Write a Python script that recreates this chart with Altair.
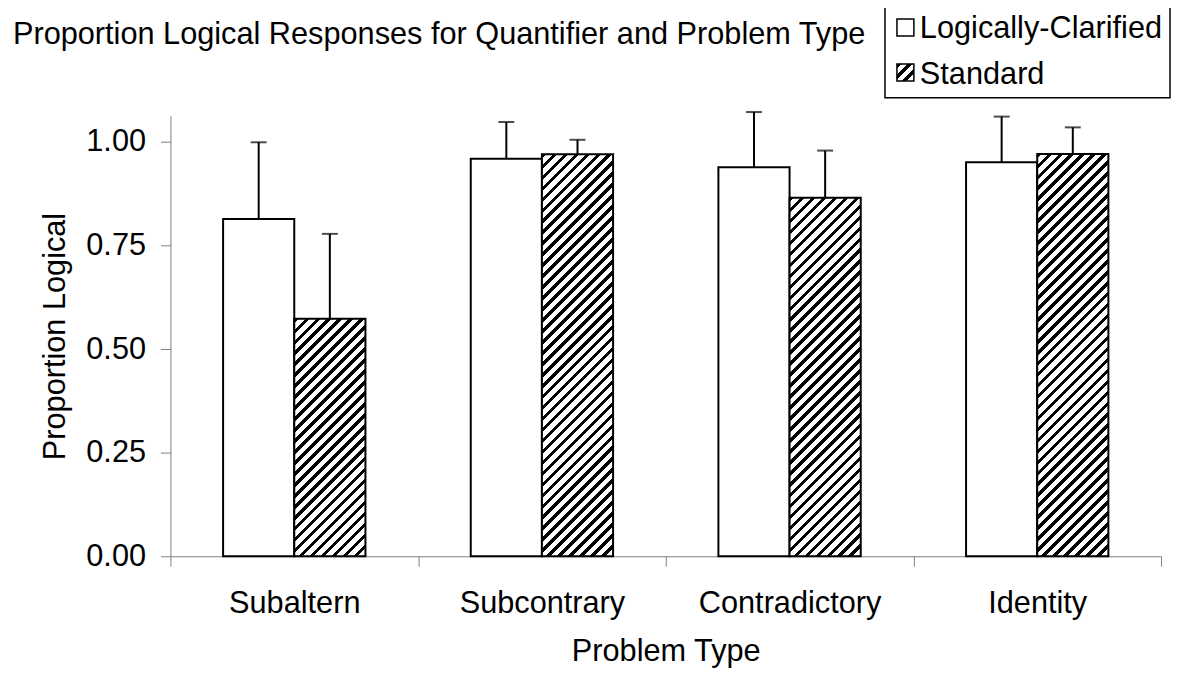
import math
import altair as alt
import pandas as pd

# ---------------- data ----------------
problems = ["Subaltern", "Subcontrary", "Contradictory", "Identity"]
conditions = ["Logically-Clarified", "Standard"]
lc_mean = [0.814, 0.959, 0.939, 0.951]
lc_upper = [0.999, 1.048, 1.072, 1.061]
std_mean = [0.573, 0.970, 0.865, 0.971]
std_upper = [0.778, 1.005, 0.979, 1.035]
y_ticks = [0.0, 0.25, 0.5, 0.75, 1.0]
chart_title = "Proportion Logical Responses for Quantifier and Problem Type"
x_title = "Problem Type"
y_title = "Proportion Logical"

rows = []
for i, p in enumerate(problems):
    rows.append(dict(problem=p, cond=conditions[0], value=lc_mean[i], upper=lc_upper[i]))
    rows.append(dict(problem=p, cond=conditions[1], value=std_mean[i], upper=std_upper[i]))
df = pd.DataFrame(rows)

# ---------------- layout / style ----------------
W, H = 994, 442
YMAX = 1.063
PAD_OUTER = 0.74
FONT = "Liberation Sans"
FS = 30.8
GRAY = "#808080"

step = W / len(problems)
bar_w = step / (2 + 2 * PAD_OUTER)


def hatch(w, h, period=11.0, frac=0.42):
    """Diagonal '/' stripes as a linear gradient with hard stops."""
    n = math.ceil((w + h) / period)
    L = n * period
    a = L / (w * w + h * h)
    stops = []
    for k in range(n):
        o0 = round(k / n, 6)
        o1 = round((k + frac) / n, 6)
        o2 = round((k + 1) / n, 6)
        stops += [
            alt.GradientStop(offset=o0, color="black"),
            alt.GradientStop(offset=o1, color="black"),
            alt.GradientStop(offset=o1, color="white"),
            alt.GradientStop(offset=o2, color="white"),
        ]
    return alt.Gradient(gradient="linear", stops=stops,
                        x1=0, y1=0, x2=round(a * w, 6), y2=round(a * h, 6))


x_axis = alt.Axis(
    title=x_title, labelAngle=0, labelFont=FONT, labelFontSize=FS, labelColor="black",
    labelBaseline="alphabetic", labelPadding=46, labelLimit=0, tickBand="extent", tickSize=10,
    tickColor=GRAY, domainColor=GRAY, titleFont=FONT, titleFontSize=FS,
    titleFontWeight="normal", titleColor="black", titleX=W / 2, titleY=105,
    titleBaseline="alphabetic", titleAlign="center", grid=False,
)
y_axis = alt.Axis(
    title=y_title, values=y_ticks, format=".2f", labelFont=FONT, labelFontSize=FS,
    labelColor="black", labelPadding=15, tickSize=10, tickColor=GRAY, domainColor=GRAY,
    titleFont=FONT, titleFontSize=FS, titleFontWeight="normal", titleColor="black",
    titleX=-106, titleY=H / 2, titleBaseline="alphabetic", titleAlign="center",
    titleAngle=270, grid=False,
)

x_enc = alt.X("problem:N", sort=problems, axis=x_axis,
              scale=alt.Scale(paddingInner=0, paddingOuter=0))
xo_enc = alt.XOffset("cond:N", sort=conditions,
                     scale=alt.Scale(paddingInner=0, paddingOuter=PAD_OUTER))
y_enc = alt.Y("value:Q", axis=y_axis, scale=alt.Scale(domain=[0, YMAX], nice=False, zero=True))

base = alt.Chart(df)

layers = []
# white (Logically-Clarified) bars
layers.append(
    base.transform_filter(alt.datum.cond == conditions[0])
    .mark_bar(fill="white", stroke="black", strokeWidth=2)
    .encode(x=x_enc, xOffset=xo_enc, y=y_enc)
)
# hatched (Standard) bars, one gradient per bar so stripes stay at 45 degrees
for i, p in enumerate(problems):
    h_px = std_mean[i] / YMAX * H
    layers.append(
        base.transform_filter((alt.datum.cond == conditions[1]) & (alt.datum.problem == p))
        .mark_bar(fill=hatch(bar_w, h_px), stroke="black", strokeWidth=2)
        .encode(x=x_enc, xOffset=xo_enc, y=y_enc)
    )
# error bars (upward only)
layers.append(
    base.mark_rule(color="black", strokeWidth=2)
    .encode(x=x_enc, xOffset=xo_enc, y=y_enc, y2="upper:Q")
)
layers.append(
    base.mark_tick(color="black", thickness=2, size=16, orient="horizontal")
    .encode(x=x_enc, xOffset=xo_enc, y=alt.Y("upper:Q", axis=y_axis,
                                               scale=alt.Scale(domain=[0, YMAX], nice=False)))
)

# chart title (left-aligned, page-level)
one = pd.DataFrame({"t": [chart_title]})
layers.append(
    alt.Chart(one).mark_text(font=FONT, fontSize=FS, align="left", baseline="alphabetic",
                             color="black")
    .encode(x=alt.value(-158), y=alt.value(-72), text="t:N")
)

# legend box
box = pd.DataFrame({"k": [0]})
layers.append(
    alt.Chart(box).mark_rect(fill="white", stroke="black", strokeWidth=1.5)
    .encode(x=alt.value(717), x2=alt.value(1003), y=alt.value(-111), y2=alt.value(-18))
)
layers.append(
    alt.Chart(box).mark_rect(fill="white", stroke="black", strokeWidth=1.5)
    .encode(x=alt.value(729), x2=alt.value(746), y=alt.value(-97), y2=alt.value(-80))
)
layers.append(
    alt.Chart(box).mark_rect(fill=hatch(17, 17), stroke="black", strokeWidth=1.5)
    .encode(x=alt.value(729), x2=alt.value(746), y=alt.value(-52), y2=alt.value(-35))
)
layers.append(
    alt.Chart(pd.DataFrame({"t": [conditions[0]]}))
    .mark_text(font=FONT, fontSize=FS, align="left", baseline="alphabetic", color="black")
    .encode(x=alt.value(752), y=alt.value(-78), text="t:N")
)
layers.append(
    alt.Chart(pd.DataFrame({"t": [conditions[1]]}))
    .mark_text(font=FONT, fontSize=FS, align="left", baseline="alphabetic", color="black")
    .encode(x=alt.value(752), y=alt.value(-32), text="t:N")
)

chart = (
    alt.layer(*layers)
    .properties(
        width=W, height=H,
        autosize=alt.AutoSizeParams(type="none"),
        padding={"left": 163, "top": 107, "right": 12, "bottom": 112},
        background="white",
    )
    .configure_view(stroke=None)
)

chart.save("out.html", embed_options={"renderer": "svg", "actions": False})
